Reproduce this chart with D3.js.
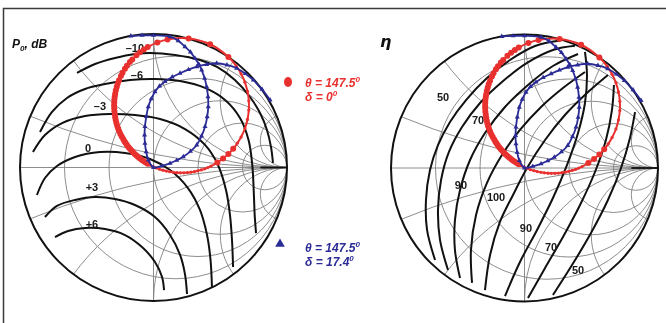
<!DOCTYPE html>
<html><head><meta charset="utf-8">
<script src="https://cdn.jsdelivr.net/npm/d3@7"></script>
<style>body{margin:0;background:#fff}svg{display:block;will-change:transform}</style>
</head><body>
<svg id="chart" width="666" height="323"></svg>
<script>
// Smith chart grid: constant-resistance circles and constant-reactance arcs
const resistanceCircles = [0.2, 0.5, 1, 2, 5];
const reactanceArcs = [0.2, 0.5, 1, 2, 5, -0.2, -0.5, -1, -2, -5];

// Load trajectories, reflection coefficient [re, im]
const redPoints = [
  [0.714,0.500],[0.704,0.570],[0.685,0.638],[0.656,0.702],[0.619,0.762],
  [0.561,0.828],[0.424,0.923],[0.263,0.967],[0.105,0.959],[0.029,0.937],
  [-0.043,0.902],[-0.072,0.884],[-0.101,0.863],[-0.128,0.840],[-0.159,0.809],
  [-0.177,0.790],[-0.199,0.762],[-0.214,0.740],[-0.232,0.710],[-0.244,0.686],
  [-0.258,0.654],[-0.268,0.630],[-0.275,0.604],[-0.282,0.579],[-0.287,0.553],
  [-0.290,0.531],[-0.293,0.509],[-0.294,0.487],[-0.295,0.465],[-0.294,0.443],
  [-0.293,0.421],[-0.290,0.399],[-0.287,0.377],[-0.283,0.356],[-0.278,0.334],
  [-0.272,0.313],[-0.265,0.292],[-0.257,0.272],[-0.248,0.251],[-0.238,0.232],
  [-0.227,0.213],[-0.218,0.197],[-0.209,0.183],[-0.199,0.168],[-0.188,0.154],
  [-0.177,0.140],[-0.165,0.127],[-0.153,0.114],[-0.141,0.102],[-0.128,0.090],
  [-0.115,0.078],[-0.101,0.067],[-0.087,0.056],[-0.072,0.046],[-0.058,0.037],
  [-0.043,0.028],[-0.027,0.019],[-0.004,0.007],[0.021,-0.003],[0.045,-0.013],
  [0.071,-0.020],[0.096,-0.027],[0.122,-0.032],[0.148,-0.036],[0.175,-0.039],
  [0.201,-0.040],[0.228,-0.040],[0.254,-0.038],[0.280,-0.035],[0.306,-0.031],
  [0.332,-0.025],[0.357,-0.018],[0.383,-0.010],[0.407,0.000],[0.431,0.011],
  [0.478,0.037],[0.521,0.067],[0.561,0.102],[0.597,0.140],[0.629,0.183],
  [0.656,0.228],[0.685,0.292],[0.704,0.360],[0.714,0.430]
];
const bluePoints = [
  [-0.170,0.985],[-0.085,0.990],[0.000,0.990],[0.124,0.980],[0.185,0.950],
  [0.236,0.905],[0.277,0.864],[0.311,0.818],[0.339,0.775],[0.361,0.730],
  [0.383,0.668],[0.398,0.605],[0.408,0.530],[0.410,0.455],[0.402,0.380],
  [0.386,0.306],[0.360,0.236],[0.324,0.169],[0.277,0.121],[0.223,0.081],
  [0.174,0.054],[0.124,0.031],[0.062,0.012],[0.000,0.000],[-0.039,0.056],
  [-0.055,0.118],[-0.064,0.181],[-0.067,0.244],[-0.064,0.306],[-0.054,0.381],
  [-0.039,0.455],[-0.017,0.514],[0.011,0.568],[0.045,0.610],[0.086,0.643],
  [0.140,0.678],[0.199,0.706],[0.262,0.733],[0.324,0.755],[0.398,0.772],
  [0.473,0.781],[0.550,0.768],[0.623,0.743],[0.688,0.703],[0.748,0.655],
  [0.813,0.585],[0.873,0.506]
];

// Output power contours, dB
const p0Levels = ["\u201310", "\u20136", "\u20133", "0", "+3", "+6"];
const p0Contours = [
  [[-0.573,0.708],[-0.438,0.775],[-0.288,0.820],[-0.139,0.850],[-0.026,0.858],[0.161,0.843],[0.348,0.805],[0.476,0.753],[0.610,0.655],[0.723,0.528],[0.798,0.408],[0.850,0.281],[0.880,0.154],[0.895,0.034]],
  [[-0.850,0.266],[-0.760,0.416],[-0.648,0.521],[-0.513,0.588],[-0.363,0.625],[-0.176,0.655],[0.011,0.663],[0.199,0.648],[0.386,0.596],[0.536,0.506],[0.648,0.371],[0.712,0.206],[0.740,0.019],[0.752,-0.206],[0.758,-0.356],[0.768,-0.491]],
  [[-0.903,0.116],[-0.813,0.243],[-0.685,0.333],[-0.513,0.386],[-0.326,0.401],[-0.139,0.393],[0.049,0.363],[0.236,0.288],[0.386,0.169],[0.483,0.019],[0.543,-0.169],[0.573,-0.356],[0.588,-0.543],[0.596,-0.745]],
  [[-0.873,-0.206],[-0.813,-0.079],[-0.723,0.011],[-0.588,0.079],[-0.401,0.116],[-0.213,0.109],[-0.026,0.064],[0.124,-0.019],[0.258,-0.154],[0.348,-0.318],[0.401,-0.506],[0.427,-0.690],[0.438,-0.900]],
  [[-0.813,-0.371],[-0.723,-0.288],[-0.588,-0.243],[-0.438,-0.221],[-0.288,-0.236],[-0.139,-0.281],[0.011,-0.371],[0.124,-0.506],[0.199,-0.655],[0.236,-0.800],[0.251,-0.948]],
  [[-0.738,-0.521],[-0.640,-0.476],[-0.513,-0.453],[-0.363,-0.461],[-0.213,-0.506],[-0.086,-0.596],[0.011,-0.708],[0.064,-0.820],[0.079,-0.918]]
];
const p0LabelAt = [[-0.139,0.895],[-0.124,0.693],[-0.401,0.461],[-0.491,0.146],[-0.461,-0.146],[-0.461,-0.423]];

// Efficiency contours, %
const etaLevels = ["50", "70", "90", "100", "90", "70", "50"];
const etaContours = [
  [[-0.670,-0.689],[-0.730,-0.464],[-0.738,-0.240],[-0.708,-0.015],[-0.648,0.172],[-0.558,0.345],[-0.438,0.509],[-0.281,0.674],[-0.109,0.809],[0.079,0.914],[0.266,0.955]],
  [[-0.573,-0.764],[-0.633,-0.539],[-0.648,-0.315],[-0.625,-0.090],[-0.566,0.120],[-0.468,0.307],[-0.333,0.487],[-0.169,0.644],[0.019,0.787],[0.213,0.884],[0.378,0.915]],
  [[-0.483,-0.824],[-0.521,-0.614],[-0.521,-0.390],[-0.483,-0.165],[-0.408,0.060],[-0.296,0.262],[-0.146,0.457],[0.026,0.622],[0.213,0.764],[0.401,0.854]],
  [[-0.393,-0.861],[-0.401,-0.614],[-0.363,-0.352],[-0.281,-0.112],[-0.169,0.097],[-0.034,0.285],[0.124,0.457],[0.288,0.599],[0.453,0.719]],
  [[-0.296,-0.914],[-0.258,-0.652],[-0.184,-0.404],[-0.086,-0.202],[0.019,0.000],[0.154,0.210],[0.303,0.397],[0.476,0.569],[0.625,0.697]],
  [[-0.146,-0.959],[-0.034,-0.704],[0.094,-0.464],[0.213,-0.225],[0.318,0.022],[0.401,0.262],[0.453,0.487],[0.468,0.697],[0.453,0.869]],
  [[0.026,-0.974],[0.154,-0.749],[0.288,-0.517],[0.416,-0.277],[0.528,-0.030],[0.610,0.210],[0.655,0.434],[0.670,0.622]],
  [[0.213,-0.951],[0.356,-0.727],[0.498,-0.487],[0.625,-0.240],[0.723,0.000],[0.790,0.225],[0.828,0.419]]
];
const etaLabelAt = [[-0.610,0.532],[-0.348,0.360],[-0.476,-0.127],[-0.213,-0.217],[0.011,-0.449],[0.199,-0.592],[0.401,-0.764]];

// Legend entries
const legendRed = {theta: "147.5", delta: "0"};
const legendBlue = {theta: "147.5", delta: "17.4"};

const RED = "#e8312f", BLUE = "#2b2b96", GRID = "#808080";
const svg = d3.select("#chart");
const defs = svg.append("defs");

// page frame
svg.append("path").attr("d", "M3.5,323V8.5H666").attr("fill", "none")
  .attr("stroke", "#3a3a3a").attr("stroke-width", 1.5);

const panels = [
  {cx: 153.5, cy: 167.5, R: 133.5, contours: p0Contours, levels: p0Levels, labelAt: p0LabelAt},
  {cx: 524.5, cy: 168, R: 133.5, contours: etaContours, levels: etaLevels, labelAt: etaLabelAt}
];

panels.forEach((p, i) => {
  const x = d3.scaleLinear().domain([-1, 1]).range([p.cx - p.R, p.cx + p.R]);
  const y = d3.scaleLinear().domain([-1, 1]).range([p.cy + p.R, p.cy - p.R]);
  const rad = v => x(v) - x(0);
  const clipId = "disk" + i;
  defs.append("clipPath").attr("id", clipId)
    .append("circle").attr("cx", x(0)).attr("cy", y(0)).attr("r", rad(1));

  const g = svg.append("g");
  const grid = g.append("g").attr("clip-path", `url(#${clipId})`)
    .attr("fill", "none").attr("stroke", GRID).attr("stroke-width", 0.9);
  resistanceCircles.forEach(r => grid.append("circle")
    .attr("cx", x(r / (1 + r))).attr("cy", y(0)).attr("r", rad(1 / (1 + r))));
  reactanceArcs.forEach(v => grid.append("circle")
    .attr("cx", x(1)).attr("cy", y(1 / v)).attr("r", Math.abs(rad(1 / v))));
  grid.append("line").attr("x1", x(-1)).attr("x2", x(1)).attr("y1", y(0)).attr("y2", y(0));
  grid.append("line").attr("x1", x(0)).attr("x2", x(0)).attr("y1", y(-1)).attr("y2", y(1));
  // dense convergence of grid lines toward the open-circuit point
  g.append("line").attr("x1", x(0.8)).attr("x2", x(1)).attr("y1", y(0)).attr("y2", y(0))
    .attr("stroke", "#111").attr("stroke-width", 1.8);

  // contours
  const line = d3.line().x(d => x(d[0])).y(d => y(d[1])).curve(d3.curveCatmullRom.alpha(0.5));
  g.append("g").attr("fill", "none").attr("stroke", "#111").attr("stroke-width", 2)
    .selectAll("path").data(p.contours).join("path").attr("d", line);

  // outer boundary
  g.append("circle").attr("cx", x(0)).attr("cy", y(0)).attr("r", rad(1))
    .attr("fill", "none").attr("stroke", "#111").attr("stroke-width", 2);

  g.append("g").attr("font-family", "Liberation Sans, Arial, sans-serif").attr("font-size", 11)
    .attr("font-weight", "bold").attr("fill", "#1a1a1a").attr("text-anchor", "middle")
    .selectAll("text").data(p.levels).join("text")
    .attr("x", (d, k) => x(p.labelAt[k][0])).attr("y", (d, k) => y(p.labelAt[k][1]) + 4)
    .text(d => d);

  // red trajectory
  g.append("path").datum(redPoints)
    .attr("d", d3.line().x(d => x(d[0])).y(d => y(d[1])).curve(d3.curveCatmullRomClosed))
    .attr("fill", "none").attr("stroke", RED).attr("stroke-width", 2);
  g.append("g").attr("fill", RED).selectAll("circle").data(redPoints).join("circle")
    .attr("cx", d => x(d[0])).attr("cy", d => y(d[1]))
    .attr("r", d => (d[1] > 0.02 && d[0] < 0.6) ? 3 : 1.6);

  // blue trajectory
  g.append("path").datum(bluePoints)
    .attr("d", d3.line().x(d => x(d[0])).y(d => y(d[1])).curve(d3.curveCatmullRom))
    .attr("fill", "none").attr("stroke", BLUE).attr("stroke-width", 1.8);
  g.append("g").attr("fill", BLUE).selectAll("path").data(bluePoints).join("path")
    .attr("transform", d => `translate(${x(d[0])},${y(d[1])})`)
    .attr("d", d3.symbol(d3.symbolTriangle, 11));
});

// titles
const title = svg.append("text").attr("x", 12).attr("y", 48)
  .attr("font-family", "Liberation Sans, Arial, sans-serif").attr("font-size", 12)
  .attr("font-weight", "bold").attr("font-style", "italic").attr("fill", "#111");
title.append("tspan").text("P");
title.append("tspan").attr("font-size", 8).attr("dy", 3).text("0");
title.append("tspan").attr("dy", -3).text(", dB");

svg.append("text").attr("x", 380).attr("y", 47)
  .attr("font-family", "DejaVu Sans, sans-serif").attr("font-size", 16)
  .attr("font-weight", "bold").attr("font-style", "italic").attr("fill", "#111").text("\u03b7");

// legend
function legendText(yBase, color, entry) {
  const t = svg.append("g").attr("font-family", "Liberation Sans, Arial, sans-serif")
    .attr("font-size", 12).attr("font-weight", "bold").attr("font-style", "italic").attr("fill", color);
  const a = t.append("text").attr("x", 305).attr("y", yBase);
  a.append("tspan").text("\u03b8 = " + entry.theta);
  a.append("tspan").attr("font-size", 8).attr("dy", -5).text("0");
  const b = t.append("text").attr("x", 305).attr("y", yBase + 14);
  b.append("tspan").text("\u03b4 = " + entry.delta);
  b.append("tspan").attr("font-size", 8).attr("dy", -5).text("0");
}
svg.append("ellipse").attr("cx", 288).attr("cy", 82).attr("rx", 4).attr("ry", 5).attr("fill", RED);
legendText(87, RED, legendRed);
svg.append("path").attr("transform", "translate(280,244)")
  .attr("d", d3.symbol(d3.symbolTriangle, 40)).attr("fill", BLUE);
legendText(252, BLUE, legendBlue);
</script>
</body></html>
